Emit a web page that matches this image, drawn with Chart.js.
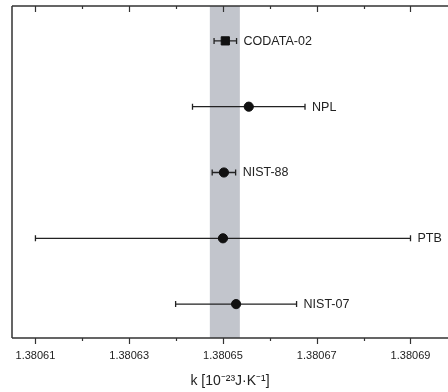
<!DOCTYPE html>
<html>
<head>
<meta charset="utf-8">
<script src="https://cdn.jsdelivr.net/npm/chart.js@4/dist/chart.umd.min.js"></script>
<style>
  html, body { margin: 0; padding: 0; background: #fff; overflow: hidden; }
  #wrap { width: 448px; height: 392px; position: relative; }
</style>
</head>
<body>
<div id="wrap"><canvas id="k_chart"></canvas></div>
<script>
// measurements of the Boltzmann constant, k [10^-23 J/K]
var names = ["CODATA-02", "NPL", "NIST-88", "PTB", "NIST-07"];
var values = [1.3806505, 1.3806555, 1.3806502, 1.3806500, 1.3806528];
var errors = [0.0000024, 0.0000120, 0.0000025, 0.0000400, 0.0000129];
var rows = [5, 4, 3, 2, 1];
var markers = ["rect", "circle", "circle", "circle", "circle"];
var band = [1.3806472, 1.3806536];
var tickValues = [1.38061, 1.38062, 1.38063, 1.38064, 1.38065, 1.38066, 1.38067, 1.38068, 1.38069];

var ink = "#222222";
var font = "'Liberation Sans', Arial, sans-serif";

var points = values.map(function (v, i) {
  return { x: v, y: rows[i] };
});

function isMajor(v) {
  return Math.round(v * 1e5) % 2 === 1;
}

// grey band behind the points
var bandPlugin = {
  id: "band",
  beforeDatasetsDraw: function (chart) {
    var c = chart.ctx, a = chart.chartArea, xs = chart.scales.x;
    var x0 = xs.getPixelForValue(band[0]);
    var x1 = xs.getPixelForValue(band[1]);
    c.save();
    c.fillStyle = "#c2c5cc";
    c.fillRect(x0, a.top, x1 - x0, a.bottom - a.top);
    c.restore();
  }
};

// horizontal error bars with caps, plus the name labels
var errPlugin = {
  id: "errbars",
  beforeDatasetsDraw: function (chart) {
    var c = chart.ctx, xs = chart.scales.x, ys = chart.scales.y;
    c.save();
    c.strokeStyle = ink;
    c.lineWidth = 1.3;
    values.forEach(function (v, i) {
      var xl = xs.getPixelForValue(v - errors[i]);
      var xr = xs.getPixelForValue(v + errors[i]);
      var y = ys.getPixelForValue(rows[i]);
      c.beginPath();
      c.moveTo(xl, y); c.lineTo(xr, y);
      c.moveTo(xl, y - 3); c.lineTo(xl, y + 3);
      c.moveTo(xr, y - 3); c.lineTo(xr, y + 3);
      c.stroke();
    });
    c.restore();
  },
  afterDatasetsDraw: function (chart) {
    var c = chart.ctx, xs = chart.scales.x, ys = chart.scales.y;
    c.save();
    c.fillStyle = ink;
    c.font = "12.5px " + font;
    c.textBaseline = "middle";
    c.textAlign = "left";
    values.forEach(function (v, i) {
      var xr = xs.getPixelForValue(v + errors[i]);
      var y = ys.getPixelForValue(rows[i]);
      c.fillText(names[i], xr + 7, y + 0.5);
    });
    c.restore();
  }
};

// frame (left, top, bottom) and tick marks on top and bottom
var framePlugin = {
  id: "frame",
  afterDraw: function (chart) {
    var c = chart.ctx, a = chart.chartArea, xs = chart.scales.x;
    c.save();
    c.strokeStyle = "#333";
    c.lineWidth = 1.5;
    c.beginPath();
    c.moveTo(a.left, a.top); c.lineTo(a.left, a.bottom);
    c.moveTo(a.left, a.top); c.lineTo(a.right, a.top);
    c.moveTo(a.left, a.bottom); c.lineTo(a.right, a.bottom);
    c.stroke();
    c.lineWidth = 1.2;
    c.beginPath();
    tickValues.forEach(function (v) {
      var x = Math.round(xs.getPixelForValue(v)) + 0.5;
      var len = isMajor(v) ? 6 : 3;
      c.moveTo(x, a.bottom); c.lineTo(x, a.bottom + len);
      c.moveTo(x, a.top); c.lineTo(x, a.top + len);
    });
    c.stroke();
    c.restore();
  }
};

var ctx = document.getElementById("k_chart").getContext("2d");
var myChart = new Chart(ctx, {
  type: "scatter",
  data: {
    datasets: [
      {
        label: "k",
        data: points,
        pointStyle: markers,
        pointRadius: [5.8, 4.6, 4.6, 4.6, 4.6],
        backgroundColor: "#111",
        borderColor: "#111",
        borderWidth: 1,
      },
    ],
  },
  options: {
    responsive: true,
    maintainAspectRatio: false,
    animation: false,
    layout: { autoPadding: false, padding: { left: 12, top: 6, right: 0, bottom: 0 } },
    plugins: {
      legend: { display: false },
      tooltip: { enabled: false },
    },
    scales: {
      x: {
        type: "linear",
        min: 1.380605,
        max: 1.380698,
        afterBuildTicks: function (scale) {
          scale.ticks = tickValues.map(function (v) { return { value: v }; });
        },
        afterFit: function (scale) {
          scale.paddingLeft = 0;
          scale.paddingRight = 0;
        },
        grid: { display: true, drawOnChartArea: false, drawTicks: true, tickLength: 7, color: "rgba(0,0,0,0)" },
        border: { display: false },
        ticks: {
          autoSkip: false,
          maxRotation: 0,
          padding: 4,
          color: ink,
          font: { family: font, size: 11 },
          callback: function (v) {
            return isMajor(v) ? v.toFixed(5) : "";
          },
        },
        title: {
          display: true,
          text: "k [10\u207B\u00B2\u00B3J\u00B7K\u207B\u00B9]",
          color: ink,
          font: { family: font, size: 14 },
          padding: { top: 7, bottom: 2 },
        },
      },
      y: {
        type: "linear",
        display: false,
        min: 0.485,
        max: 5.53,
      },
    },
  },
  plugins: [bandPlugin, errPlugin, framePlugin],
});
</script>
</body>
</html>
